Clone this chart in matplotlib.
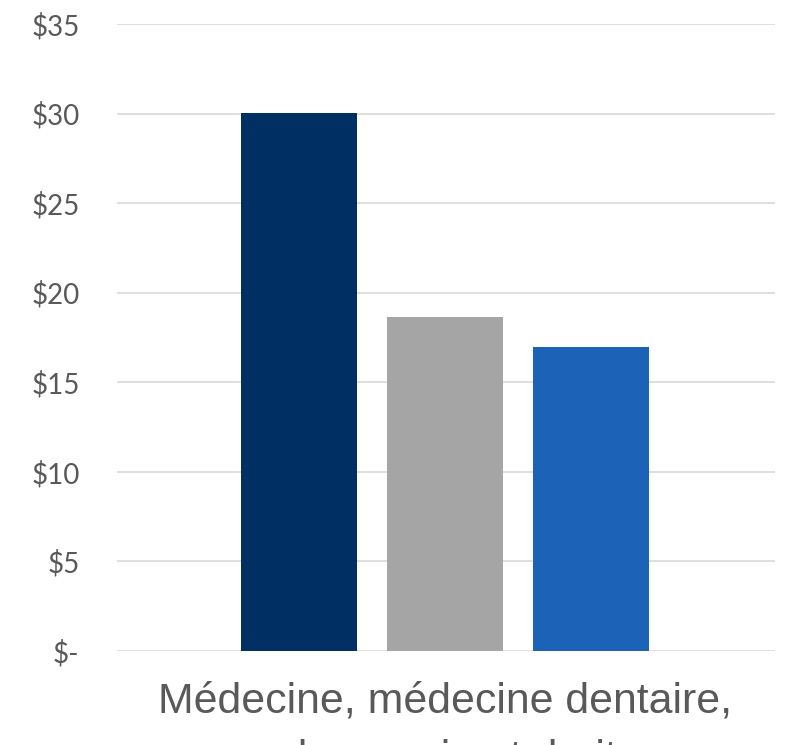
import matplotlib.pyplot as plt

# donnees
categorie = "Médecine, médecine dentaire,\npharmacie et droit"
valeurs = [30.05, 18.65, 16.97]
couleurs = ["#002F63", "#A5A5A5", "#1C63B7"]
yticks = [0, 5, 10, 15, 20, 25, 30, 35]
ylabels = ["$-", "$5", "$10", "$15", "$20", "$25", "$30", "$35"]

fig = plt.figure(figsize=(7.85, 7.45), dpi=100)
ax = fig.add_axes([117/785, 1 - 651/745, 658/785, 627/745])

pos = [0, 1, 2]
ax.bar(pos, valeurs, width=0.795, color=couleurs, zorder=3)

ax.set_xlim(-1.247, 3.26)
ax.set_ylim(0, 35)
ax.set_yticks(yticks)
ax.set_yticklabels(ylabels, fontfamily="Lato", fontsize=20, color="#595959")
ax.tick_params(axis="y", length=0, pad=27)
ax.yaxis.grid(True, color="#D9D9D9", linewidth=1.2, zorder=0)

ax.set_xticks([1])
ax.set_xticklabels([categorie], fontfamily="Liberation Sans", fontsize=30.8,
                   color="#595959", linespacing=1.55, va="top")
ax.tick_params(axis="x", length=0, pad=22)

for s in ax.spines.values():
    s.set_visible(False)

plt.savefig("out.png", dpi=100)
